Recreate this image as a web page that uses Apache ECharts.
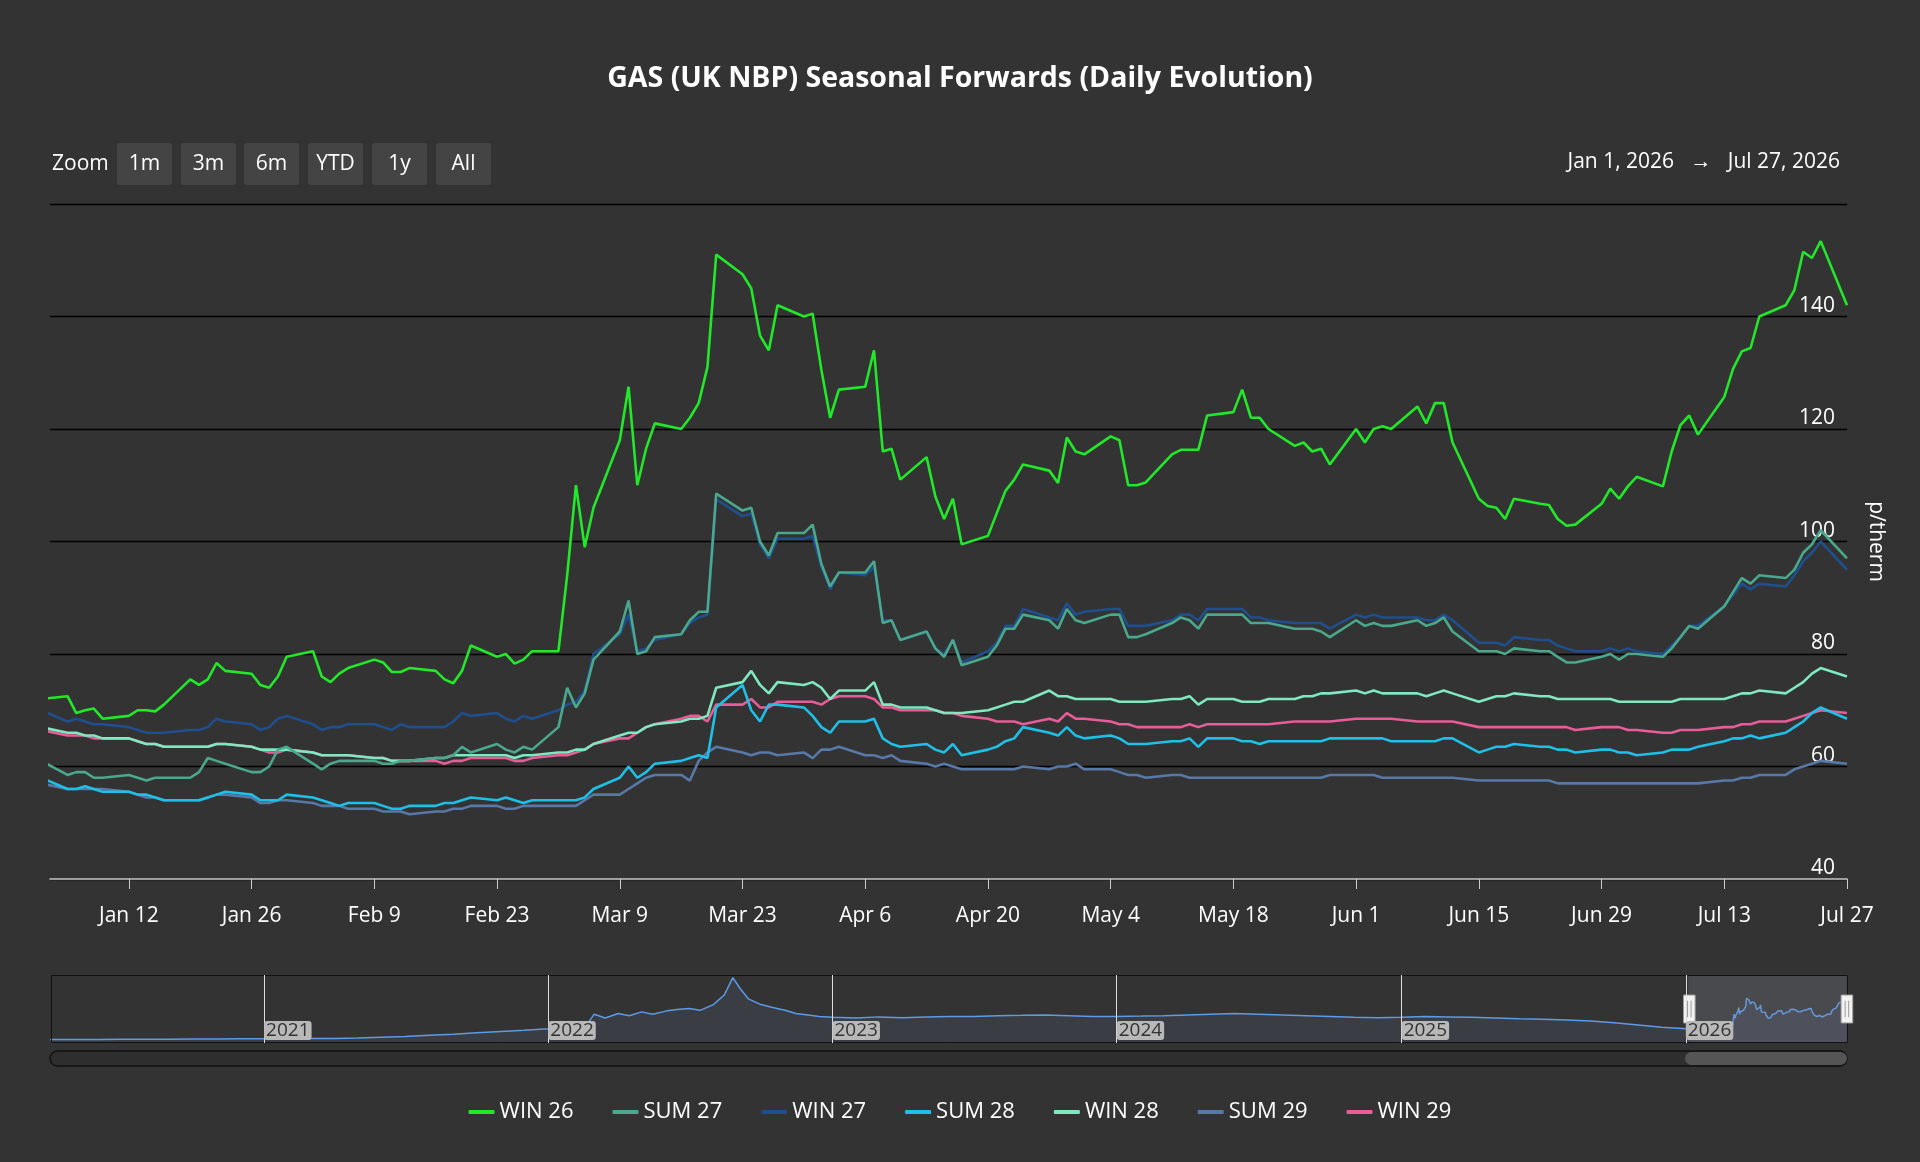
<!DOCTYPE html>
<html><head><meta charset="utf-8">
<script src="https://cdn.jsdelivr.net/npm/echarts@6/dist/echarts.min.js"></script>
<style>html,body{margin:0;padding:0;background:#333333;}#c{width:1920px;height:1162px;}</style>
</head><body><div id="c"></div>
<script>
// weekday dates Jan 2 – Jul 27, 2026
const dates = [];
for (let d = new Date(Date.UTC(2026,0,2)); d <= new Date(Date.UTC(2026,6,27)); d.setUTCDate(d.getUTCDate()+1)) {
  const w = d.getUTCDay(); if (w !== 0 && w !== 6) dates.push(d.toISOString().slice(0,10));
}
const seriesNames = ['WIN 26','SUM 27','WIN 27','SUM 28','WIN 28','SUM 29','WIN 29'];
const seriesColors = ['#22e82a','#4aa88c','#1f4f8f','#1fc0e8','#7fe8c0','#5878a8','#e85c98'];
const win26 = [72, 72.5,69.5,70,70.3,68.5, 69,70,70,69.8,71, 75.5,74.5,75.5,78.4,77, 76.5,74.5,74,76,79.5,
 80.5,76,75,76.5,77.5, 79,78.5,76.8,76.8,77.5, 77,75.5,74.8,77,81.5, 79.5,80,78.3,79,80.5,
 80.5,94,110,99,106, 118,127.5,110,116.5,121, 120,122,124.6,131,151, 147.5,145,136.6,134,142, 140,140.5,130.5,122,127,
 127.5,134,116,116.5,111, 115,108,104,107.6,99.5, 101,105,109,111,113.7, 112.6,110.4,118.5,116,115.5,
 118.7,118,110,110,110.5, 115.5,116.3,116.3,116.3,122.4, 123,127,122,122,120, 117,117.6,116,116.5,113.7,
 120,117.6,120,120.5,120, 124,121,124.6,124.6,117.6, 107.6,106.3,106,104,107.6, 106.7,106.5,104,102.8,103,
 106.7,109.4,107.6,109.8,111.5, 109.8,116,120.7,122.4,119, 125.7,130.7,133.8,134.4,140, 142,144.7,151.5,150.4,153.4, 142];
const sum27 = [61, 58.5,59,59,58,58, 58.5,58,57.5,58,58, 58,59,61.5,61,60.5, 59,59,60,63,63.5,
 60.5,59.5,60.5,61,61, 61,60.5,60.5,61,61, 61.5,61.5,62,63.5,62.5, 64,63,62.5,63.5,63,
 67,74,70.5,73,79, 84,89.5,80,80.5,83, 83.5,86,87.5,87.5,108.5, 105.5,106,100,97.5,101.5, 101.5,103,96,92,94.5,
 94.5,96.5,85.5,86,82.5, 84,81,79.5,82.5,78, 79.5,81.5,84.5,84.5,87, 86,84.5,88,86,85.5,
 87,87,83,83,83.5, 85.5,86.5,86,84.5,87, 87,87,85.5,85.5,85.5, 84.5,84.5,84.5,84,83,
 86,85,85.5,85,85, 86,85,85.5,86.5,84, 80.5,80.5,80.5,80,81, 80.5,80.5,79.5,78.5,78.5,
 79.5,80,79,80,80, 79.5,81,83,85,84.5, 88.5,91,93.5,92.5,94, 93.5,95,98,99.5,102, 97];
const win27 = [70, 68,68.5,68,67.5,67.5, 67,66.5,66,66,66, 66.5,66.5,67,68.5,68, 67.5,66.5,67,68.5,69,
 67.5,66.5,67,67,67.5, 67.5,67,66.5,67.5,67, 67,67,68,69.5,69, 69.5,68.5,68,69,68.5,
 70,71,71.5,73.5,80, 83.5,87,80.5,81,82.5, 83.5,85.5,86.5,87,107.5, 104.5,105,99.5,97,100.5, 100.5,101,95.5,91.5,94.5,
 94,95.5,86,86,82.5, 84,81,80,82.5,78.5, 80.5,82,85,85,88, 86.5,86,89,87,87.5,
 88,88,85,85,85, 86,87,87,86,88, 88,88,86.5,86.5,86, 85.5,85.5,85.5,85.5,84.5,
 87,86.5,87,86.5,86.5, 86.5,86,86,87,86, 82,82,82,81.5,83, 82.5,82.5,81.5,81,80.5,
 80.5,81,80.5,81,80.5, 80,81.5,83,85,85, 88.5,90.5,92.5,91.5,92.5, 92,94,96.5,98,100, 95];
const sum28 = [58, 56,56,56.5,56,55.5, 55.5,55,55,54.5,54, 54,54,54.5,55,55.5, 55,54,54,54,55,
 54.5,54,53.5,53,53.5, 53.5,53,52.5,52.5,53, 53,53.5,53.5,54,54.5, 54,54.5,54,53.5,54,
 54,54,54,54.5,56, 58,60,58,59,60.5, 61,61.5,62,61.5,70.5, 74.5,70,68,71,71, 70.5,69,67,66,68,
 68,68.5,65,64,63.5, 64,63,62.5,64,62, 63,63.5,64.5,65,67, 66,65.5,67,65.5,65,
 65.5,65,64,64,64, 64.5,64.5,65,63.5,65, 65,64.5,64.5,64,64.5, 64.5,64.5,64.5,64.5,65,
 65,65,65,65,64.5, 64.5,64.5,64.5,65,65, 62.5,63,63.5,63.5,64, 63.5,63.5,63,63,62.5,
 63,63,62.5,62.5,62, 62.5,63,63,63,63.5, 64.5,65,65,65.5,65, 66,67,68,69.5,70.5, 68.5];
const win28 = [67, 66,66,65.5,65.5,65, 65,64.5,64,64,63.5, 63.5,63.5,63.5,64,64, 63.5,63,63,63,63,
 62.5,62,62,62,62, 61.5,61.5,61,61,61, 61.5,61.5,62,62,62, 62,62,61.5,62,62,
 62.5,62.5,63,63,64, 65.5,66,66,67,67.5, 68,68.5,68.5,69,74, 75,77,74.5,73,75, 74.5,75,74,72,73.5,
 73.5,75,71,71,70.5, 70.5,70,69.5,69.5,69.5, 70,70.5,71,71.5,71.5, 73.5,72.5,72.5,72,72,
 72,71.5,71.5,71.5,71.5, 72,72,72.5,71,72, 72,71.5,71.5,71.5,72, 72,72.5,72.5,73,73,
 73.5,73,73.5,73,73, 73,72.5,73,73.5,73, 71.5,72,72.5,72.5,73, 72.5,72.5,72,72,72,
 72,72,71.5,71.5,71.5, 71.5,71.5,72,72,72, 72,72.5,73,73,73.5, 73,74,75,76.5,77.5, 76];
const sum29 = [57, 56,56,56,56,56, 55.5,55,54.5,54.5,54, 54,54,54.5,55,55, 54.5,53.5,53.5,54,54,
 53.5,53,53,53,52.5, 52.5,52,52,52,51.5, 52,52,52.5,52.5,53, 53,52.5,52.5,53,53,
 53,53,53,54,55, 55,56,57,58,58.5, 58.5,57.5,61,62.5,63.5, 62.5,62,62.5,62.5,62, 62.5,61.5,63,63,63.5,
 62,62,61.5,62,61, 60.5,60,60.5,60,59.5, 59.5,59.5,59.5,59.5,60, 59.5,60,60,60.5,59.5,
 59.5,59,58.5,58.5,58, 58.5,58.5,58,58,58, 58,58,58,58,58, 58,58,58,58,58.5,
 58.5,58.5,58.5,58,58, 58,58,58,58,58, 57.5,57.5,57.5,57.5,57.5, 57.5,57.5,57,57,57,
 57,57,57,57,57, 57,57,57,57,57, 57.5,57.5,58,58,58.5, 58.5,59.5,60,60.5,61, 60.5];
const win29 = [66.5, 65.5,65.5,65.5,65,65, 65,64.5,64,64,63.5, 63.5,63.5,63.5,64,64, 63.5,63,62.5,62.5,63,
 62.5,62,62,62,62, 61.5,61.5,61,61,61, 61,60.5,61,61,61.5, 61.5,61.5,61,61,61.5,
 62,62,62.5,63,64, 65,65,66,67,67.5, 68.5,69,69,68,71, 71,72,70.5,70.5,71.5, 71.5,71.5,71,72,72.5,
 72.5,72,70.5,70.5,70, 70,70,69.5,69.5,69, 68.5,68,68,68,67.5, 68.5,68,69.5,68.5,68.5,
 68,67.5,67.5,67,67, 67,67,67.5,67,67.5, 67.5,67.5,67.5,67.5,67.5, 68,68,68,68,68,
 68.5,68.5,68.5,68.5,68.5, 68,68,68,68,68, 67,67,67,67,67, 67,67,67,67,66.5,
 67,67,67,66.5,66.5, 66,66,66.5,66.5,66.5, 67,67,67.5,67.5,68, 68,68.5,69,69.5,70, 69.5];
// WIN 26 history (for navigator)
const histDates = ['2020-04-01','2020-05-01','2020-06-01','2020-07-01','2020-08-01','2020-09-01','2020-10-01','2020-11-01','2020-12-01',
 '2021-01-01','2021-02-01','2021-03-01','2021-04-01','2021-05-01','2021-06-01','2021-07-01','2021-08-01','2021-09-01','2021-10-01','2021-11-01','2021-12-01',
 '2022-01-01','2022-02-01','2022-02-20','2022-03-01','2022-03-15','2022-04-01','2022-04-15','2022-05-01','2022-05-15','2022-06-01','2022-06-15','2022-07-01','2022-07-15','2022-08-01','2022-08-15','2022-08-26','2022-09-05','2022-09-15','2022-10-01','2022-10-15','2022-11-01','2022-11-15','2022-12-01','2022-12-15',
 '2023-01-01','2023-02-01','2023-03-01','2023-04-01','2023-05-01','2023-06-01','2023-07-01','2023-08-01','2023-09-01','2023-10-01','2023-11-01','2023-12-01',
 '2024-01-01','2024-02-01','2024-03-01','2024-04-01','2024-05-01','2024-06-01','2024-07-01','2024-08-01','2024-09-01','2024-10-01','2024-11-01','2024-12-01',
 '2025-01-01','2025-02-01','2025-03-01','2025-04-01','2025-05-01','2025-06-01','2025-07-01','2025-08-01','2025-09-01','2025-10-01','2025-11-01','2025-12-01'];
const histWin26 = [44,44,44,44.5,45,45,45.5,45.5,46,
 46,46,46.5,47,48,50,52,55,58,62,65,68,
 72,78,84,110,100,112,106,116,110,118,122,125,120,135,160,205,175,150,135,128,120,112,108,104,
 102,100,103,101,103,104,104,106,107,108,106,104,
 104,105,106,108,110,112,110,108,106,104,102,101,
 102,104,103,102,100,98,97,95,92,88,82,76];
const xTicks = ['2026-01-12','2026-01-26','2026-02-09','2026-02-23','2026-03-09','2026-03-23','2026-04-06','2026-04-20','2026-05-04','2026-05-18','2026-06-01','2026-06-15','2026-06-29','2026-07-13','2026-07-27'];
const yearTicks = ['2021-01-01','2022-01-01','2023-01-01','2024-01-01','2025-01-01','2026-01-01'];

const allSeries = [win26,sum27,win27,sum28,win28,sum29,win29];
const ts = s => new Date(s + 'T00:00:00Z').getTime();
const months = ['Jan','Feb','Mar','Apr','May','Jun','Jul','Aug','Sep','Oct','Nov','Dec'];
const FONT = '"Open Sans", sans-serif';
const fullMin = ts('2020-04-01'), fullMax = ts('2026-07-27');

const chart = echarts.init(document.getElementById('c'));
const series = allSeries.map((vals, i) => {
  let data = dates.map((d, k) => [ts(d), vals[k]]);
  if (i === 0) data = histDates.map((d, k) => [ts(d), histWin26[k]]).concat(data);
  return { name: seriesNames[i], type: 'line', xAxisIndex: 0, yAxisIndex: 0, data, showSymbol: false, symbol: 'none',
    lineStyle: { width: 2.6, color: seriesColors[i] }, itemStyle: { color: seriesColors[i] }, z: 10 - i };
});
series.push({ name: 'nav', type: 'line', xAxisIndex: 1, yAxisIndex: 1, silent: true, showSymbol: false, symbol: 'none',
  data: histDates.map((d, k) => [ts(d), histWin26[k]]).concat(dates.map((d, k) => [ts(d), win26[k]])),
  lineStyle: { color: '#5b9be8', width: 1.5 }, areaStyle: { color: '#3a3d44', opacity: 1 }, z: 1 });

const btns = ['1m','3m','6m','YTD','1y','All'];
const btnX = [117,181,244,308,372,436];
const graphics = [
  { type: 'text', x: 52, y: 164, style: { text: 'Zoom', fill: '#fff', font: '21px ' + FONT, verticalAlign: 'middle' } }
];
btns.forEach((b, i) => {
  graphics.push({ type: 'rect', shape: { x: btnX[i], y: 143, width: 55, height: 42, r: 3 }, style: { fill: '#444444' } });
  graphics.push({ type: 'text', x: btnX[i] + 27.5, y: 164, style: { text: b, fill: '#fff', font: '21px ' + FONT, align: 'center', verticalAlign: 'middle' } });
});
graphics.push({ type: 'text', x: 1840, y: 162, style: { text: 'Jan 1, 2026   →   Jul 27, 2026', fill: '#fff', font: '21px ' + FONT, align: 'right', verticalAlign: 'middle' } });
graphics.push({ type: 'rect', shape: { x: 50, y: 1051, width: 1797, height: 15, r: 7.5 }, style: { fill: '#2e2e2e', stroke: '#111', lineWidth: 1.5 } });
graphics.push({ type: 'rect', shape: { x: 1685, y: 1052, width: 162, height: 13, r: 6.5 }, style: { fill: '#555555' } });

chart.setOption({
  animation: false,
  backgroundColor: '#333333',
  title: { text: 'GAS (UK NBP) Seasonal Forwards (Daily Evolution)', left: 'center', top: 59,
    textStyle: { color: '#fff', fontSize: 28.5, fontWeight: 'bold', fontFamily: FONT } },
  graphic: graphics,
  legend: { bottom: 34, left: 'center', itemWidth: 26, itemHeight: 4, itemGap: 39, icon: 'roundRect',
    textStyle: { color: '#fff', fontSize: 22, fontFamily: FONT }, data: seriesNames },
  grid: [
    { left: 50, right: 73, top: 204, height: 675 },
    { left: 50, right: 73, top: 975, height: 68 }
  ],
  xAxis: [
    { type: 'value', gridIndex: 0, min: fullMin, max: fullMax,
      axisLine: { onZero: false, lineStyle: { color: '#cccccc', width: 1.5 } },
      axisTick: { show: true, length: 10, lineStyle: { color: '#cccccc' }, customValues: xTicks.map(ts) },
      axisLabel: { color: '#fff', fontSize: 21, margin: 27, fontFamily: FONT,
        customValues: xTicks.map(ts),
        formatter: v => { const d = new Date(v); return months[d.getUTCMonth()] + ' ' + d.getUTCDate(); } },
      splitLine: { show: false } },
    { type: 'value', gridIndex: 1, min: fullMin, max: fullMax, z: 20,
      axisLine: { show: false },
      axisTick: { show: false, customValues: yearTicks.map(ts) },
      splitLine: { show: true, lineStyle: { color: '#dddddd', width: 1 } },
      axisLabel: { inside: true, color: '#333', fontSize: 19, margin: 3, align: 'left',
        customValues: yearTicks.map(ts), backgroundColor: '#b8b8b8', padding: [0, 2], borderRadius: 3,
        formatter: v => String(new Date(v).getUTCFullYear()), fontFamily: FONT } }
  ],
  yAxis: [
    { type: 'value', gridIndex: 0, position: 'right', min: 40, max: 160, interval: 20,
      name: 'p/therm', nameLocation: 'middle', nameRotate: -90, nameGap: 18,
      nameTextStyle: { color: '#fff', fontSize: 21, fontFamily: FONT },
      axisLine: { show: false }, axisTick: { show: false },
      axisLabel: { inside: true, color: '#fff', fontSize: 21, margin: 12, verticalAlign: 'bottom', fontFamily: FONT,
        formatter: v => (v === 160 ? '' : String(v)) },
      splitLine: { lineStyle: { color: '#000000', width: 1.3 } } },
    { type: 'value', gridIndex: 1, show: false, min: 35, max: 212, splitLine: { show: false } }
  ],
  dataZoom: [{
    type: 'slider', xAxisIndex: 0, startValue: ts('2026-01-03'), endValue: fullMax,
    left: 50, right: 73, top: 975, height: 68, showDetail: false, showDataShadow: false, brushSelect: false, filterMode: 'none',
    borderColor: '#111', backgroundColor: 'rgba(0,0,0,0)', fillerColor: 'rgba(140,145,160,0.25)',
    handleIcon: 'path://M0,0 L10,0 L10,24 L0,24 Z M3.5,5 L3.5,19 M6.5,5 L6.5,19',
    handleSize: 28, handleStyle: { color: '#f2f2f2', borderColor: '#999', borderWidth: 1 },
    moveHandleSize: 0
  }],
  series
});
</script></body></html>
